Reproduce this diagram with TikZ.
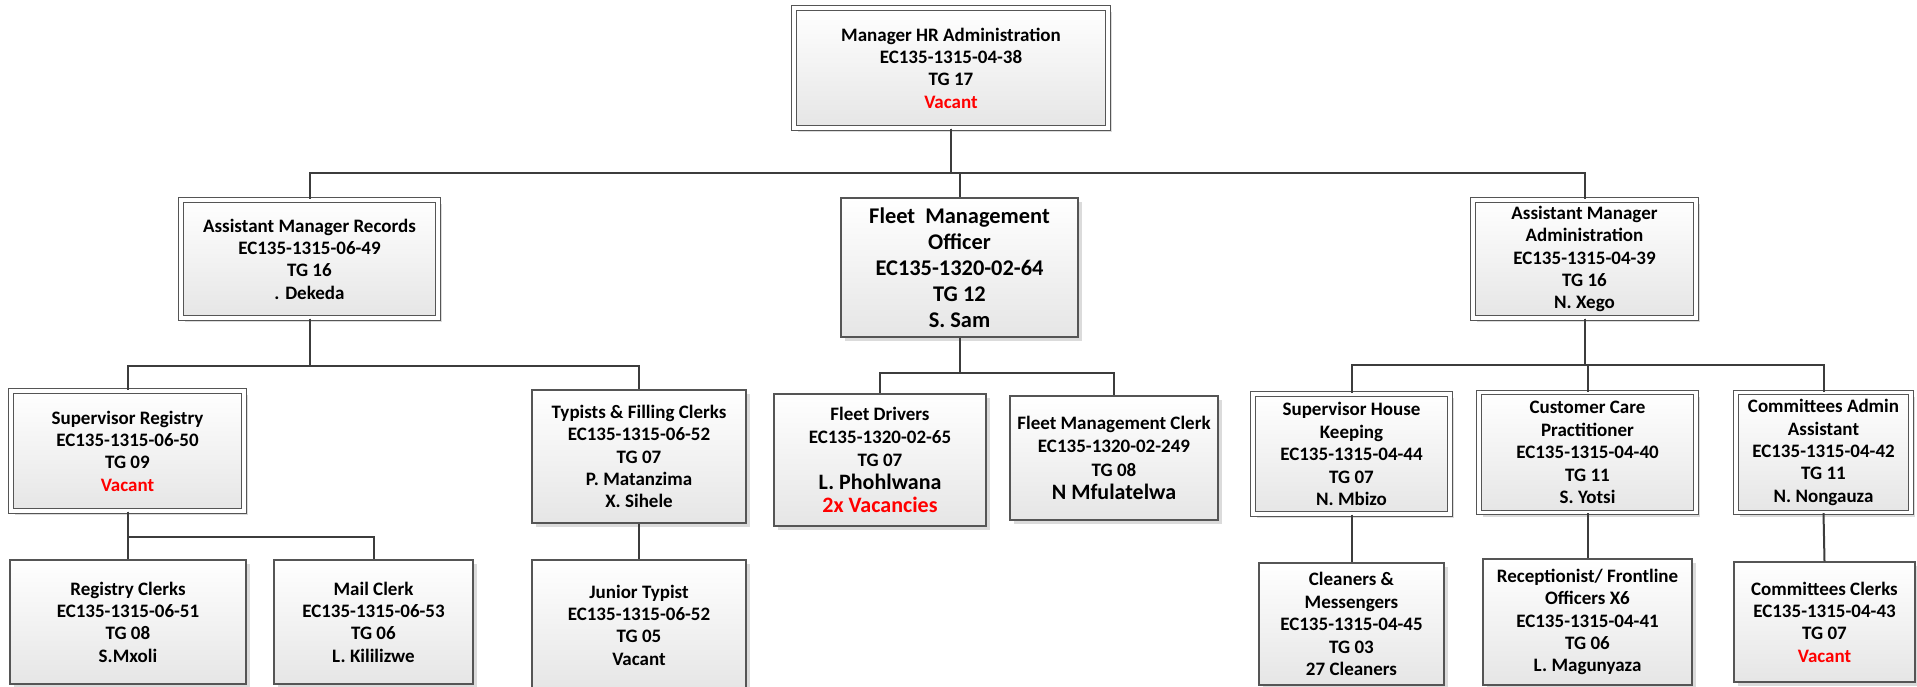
\documentclass[tikz,border=0pt]{standalone}
\usepackage{fontspec}
\setmainfont{Carlito}
\usetikzlibrary{shadows}
\definecolor{edge}{HTML}{555555}
\definecolor{wire}{HTML}{3C3C3C}
\definecolor{vred}{HTML}{FF0000}
\newcommand\nfs{\fontsize{9.5}{11.2}\selectfont\bfseries}
\newcommand\lgs{\fontsize{11.2}{13}\selectfont\bfseries}
\newcommand\lgsz{\fontsize{11}{13}\selectfont}
\begin{document}
\begin{tikzpicture}[x=0.5pt,y=-0.5pt,
  box/.style={draw=edge, line width=0.6pt, top color=white, bottom color=black!10,
    drop shadow={shadow xshift=2pt, shadow yshift=-2pt, fill=black!14, opacity=1},
    align=center, inner sep=0pt, font=\nfs},
  dbox/.style={box, double=white, double distance=1.6pt},
  conn/.style={draw=wire, line width=1pt}]
\useasboundingbox (0,0) rectangle (1917,686);

\node[dbox, minimum width=157pt, minimum height=60pt] (top) at (951,68)
  {Manager HR Administration\\EC135-1315-04-38\\TG 17\\\textcolor{vred}{Vacant}};

\node[dbox, minimum width=128.5pt, minimum height=59pt] (rec) at (309.5,259)
  {Assistant Manager Records\\EC135-1315-06-49\\TG 16\\. Dekeda};
\node[box, minimum width=118.5pt, minimum height=69.5pt, font=\lgs] (fleet) at (959.5,267.5)
  {Fleet\ \ Management\\Officer\\EC135-1320-02-64\\TG 12\\S. Sam};
\node[dbox, minimum width=111.5pt, minimum height=59pt] (adm) at (1584.5,259)
  {Assistant Manager\\Administration\\EC135-1315-04-39\\TG 16\\N. Xego};

\node[dbox, minimum width=116.5pt, minimum height=60pt] (sreg) at (127.5,451)
  {Supervisor Registry\\EC135-1315-06-50\\TG 09\\\textcolor{vred}{Vacant}};
\node[box, minimum width=107pt, minimum height=66.5pt] (typ) at (639,456.5)
  {Typists \& Filling Clerks\\EC135-1315-06-52\\TG 07\\P. Matanzima\\X. Sihele};
\node[box, minimum width=106pt, minimum height=66pt, font=\fontsize{9.5}{11.6}\selectfont\bfseries] (drv) at (880,460)
  {Fleet Drivers\\EC135-1320-02-65\\TG 07\\{\lgsz L. Phohlwana}\\{\lgsz\textcolor{vred}{2x Vacancies}}};
\node[box, minimum width=104pt, minimum height=62pt, font=\fontsize{9.5}{11.6}\selectfont\bfseries] (fclk) at (1114,458)
  {Fleet Management Clerk\\EC135-1320-02-249\\TG 08\\{\lgsz N Mfulatelwa}};
\node[dbox, minimum width=98.5pt, minimum height=60pt] (shk) at (1351.5,454)
  {Supervisor House\\Keeping\\EC135-1315-04-44\\TG 07\\N. Mbizo};
\node[dbox, minimum width=108.5pt, minimum height=60pt] (cc) at (1587.5,452.5)
  {Customer Care\\Practitioner\\EC135-1315-04-40\\TG 11\\S. Yotsi};
\node[dbox, minimum width=87.5pt, minimum height=60pt] (cad) at (1823.5,452.5)
  {Committees Admin\\Assistant\\EC135-1315-04-42\\TG 11\\N. Nongauza};

\node[box, minimum width=118pt, minimum height=62pt] (rclk) at (128,622)
  {Registry Clerks\\EC135-1315-06-51\\TG 08\\S.Mxoli};
\node[box, minimum width=99.5pt, minimum height=62pt] (mail) at (373.5,622)
  {Mail Clerk\\EC135-1315-06-53\\TG 06\\L. Kililizwe};
\node[box, minimum width=107pt, minimum height=65pt] (jtyp) at (639,625)
  {Junior Typist\\EC135-1315-06-52\\TG 05\\Vacant};
\node[box, minimum width=92.5pt, minimum height=61pt] (cln) at (1351.5,624)
  {Cleaners \&\\Messengers\\EC135-1315-04-45\\TG 03\\27 Cleaners};
\node[box, minimum width=104.5pt, minimum height=63pt] (rcp) at (1587.5,622)
  {Receptionist/ Frontline\\Officers X6\\EC135-1315-04-41\\TG 06\\L. Magunyaza};
\node[box, minimum width=90.5pt, minimum height=60pt] (ccl) at (1824.5,622)
  {Committees Clerks\\EC135-1315-04-43\\TG 07\\\textcolor{vred}{Vacant}};

\draw[conn] (top.south) -- ++(0,44) -| (rec.north);
\draw[conn] (top.south) -- ++(0,44) -| (fleet.north);
\draw[conn] (top.south) -- ++(0,44) -| (adm.north);
\draw[conn] (rec.south) -- ++(0,47) -| (sreg.north);
\draw[conn] (rec.south) -- ++(0,47) -| (typ.north);
\draw[conn] (fleet.south) -- ++(0,35) -| (drv.north);
\draw[conn] (fleet.south) -- ++(0,35) -| (fclk.north);
\draw[conn] (adm.south) -- ++(0,46) -| (shk.north);
\draw[conn] (adm.south) -- ++(0,46) -| (cc.north);
\draw[conn] (adm.south) -- ++(0,46) -| (cad.north);
\draw[conn] (sreg.south) -- ++(0,25) -| (rclk.north);
\draw[conn] (sreg.south) -- ++(0,25) -| (mail.north);
\draw[conn] (typ.south) -- (jtyp.north);
\draw[conn] (shk.south) -- (cln.north);
\draw[conn] (cc.south) -- (rcp.north);
\draw[conn] (cad.south) -- (ccl.north);
\end{tikzpicture}
\end{document}
